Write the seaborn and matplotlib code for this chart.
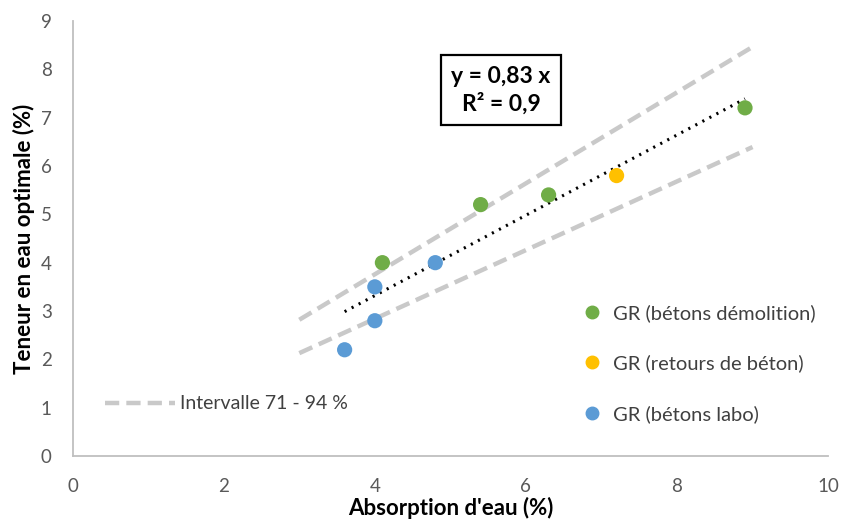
import numpy as np
import pandas as pd
import matplotlib
matplotlib.use("Agg")
import matplotlib.pyplot as plt
import seaborn as sns
from matplotlib.lines import Line2D

# Measured points
series_names = ["GR (bétons démolition)", "GR (retours de béton)", "GR (bétons labo)"]
absorption_demolition = [4.1, 5.4, 6.3, 8.9]
teneur_demolition = [4.0, 5.2, 5.4, 7.2]
absorption_retours = [7.2]
teneur_retours = [5.8]
absorption_labo = [3.6, 4.0, 4.0, 4.8]
teneur_labo = [2.2, 2.8, 3.5, 4.0]

# Regression through the origin and the 71 - 94 % band
slope_fit = 0.83
r2_fit = 0.9
fit_x = [3.6, 8.9]
band_low, band_high = 0.71, 0.94
band_x = [3.0, 9.0]

x_ticks = [0, 2, 4, 6, 8, 10]
y_ticks = [0, 1, 2, 3, 4, 5, 6, 7, 8, 9]

colors = {series_names[0]: "#70AD47", series_names[1]: "#FFC000", series_names[2]: "#5B9BD5"}

sns.set_theme(style="white")
plt.rcParams["font.family"] = ["Lato", "DejaVu Sans"]

df = pd.DataFrame({
    "x": absorption_demolition + absorption_retours + absorption_labo,
    "y": teneur_demolition + teneur_retours + teneur_labo,
    "serie": [series_names[0]] * len(absorption_demolition)
             + [series_names[1]] * len(absorption_retours)
             + [series_names[2]] * len(absorption_labo),
})

fit_df = pd.DataFrame({"x": fit_x, "y": [slope_fit * v for v in fit_x]})
low_df = pd.DataFrame({"x": band_x, "y": [band_low * v for v in band_x]})
high_df = pd.DataFrame({"x": band_x, "y": [band_high * v for v in band_x]})

fig, ax = plt.subplots(figsize=(8.45, 5.19), dpi=100)
fig.subplots_adjust(left=0.086, right=0.98, bottom=0.121, top=0.96)

band_color = "#C9C9C9"
for d in (low_df, high_df):
    sns.lineplot(data=d, x="x", y="y", ax=ax, color=band_color, lw=3.2,
                 dashes=False, linestyle=(0, (3.2, 1.6)), zorder=2)
sns.lineplot(data=fit_df, x="x", y="y", ax=ax, color="black", lw=2.2,
             linestyle=(0, (0.7, 1.9)), zorder=3)

sns.scatterplot(data=df, x="x", y="y", hue="serie", palette=colors, s=120,
                edgecolor="none", ax=ax, zorder=4, legend=False)

ax.set_xlim(0, 10)
ax.set_ylim(0, 9)
ax.set_xticks(x_ticks)
ax.set_yticks(y_ticks)
ax.tick_params(axis="x", labelsize=13.5, labelcolor="#595959", length=0, pad=16)
ax.tick_params(axis="y", labelsize=13.5, labelcolor="#595959", length=0, pad=15)
ax.set_xlabel("Absorption d'eau (%)", fontsize=16, fontweight="bold", color="black", labelpad=1)
ax.set_ylabel("Teneur en eau optimale (%)", fontsize=16, fontweight="bold", color="black", labelpad=4)

for side in ("top", "right"):
    ax.spines[side].set_visible(False)
for side in ("left", "bottom"):
    ax.spines[side].set_color("#BFBFBF")
    ax.spines[side].set_linewidth(1.3)

# Equation box
ax.text(5.67, 7.57, f"y = {slope_fit:.2f} x\nR² = {r2_fit:.1f}".replace(".", ","),
        ha="center", va="center", fontsize=16.5, fontweight="bold", color="black",
        linespacing=1.3,
        bbox=dict(boxstyle="square,pad=0.45", fc="white", ec="black", lw=1.6), zorder=5)

# Series legend
handles = [Line2D([], [], marker="o", ls="none", color=colors[n], markersize=9) for n in series_names]
leg1 = ax.legend(handles, series_names, loc="upper left", bbox_to_anchor=(0.65, 0.39),
                 frameon=False, fontsize=14.5, labelspacing=1.6, handletextpad=0.55,
                 handlelength=1.0, labelcolor="#404040")
ax.add_artist(leg1)

# Band legend
band_handle = Line2D([], [], color=band_color, lw=3.2, linestyle=(0, (3.2, 1.6)))
ax.legend([band_handle], ["Intervalle 71 - 94 %"], loc="upper left",
          bbox_to_anchor=(0.02, 0.18), frameon=False, fontsize=14,
          handlelength=3.6, handletextpad=0.25, labelcolor="#404040")

fig.savefig("out.png", dpi=100)
